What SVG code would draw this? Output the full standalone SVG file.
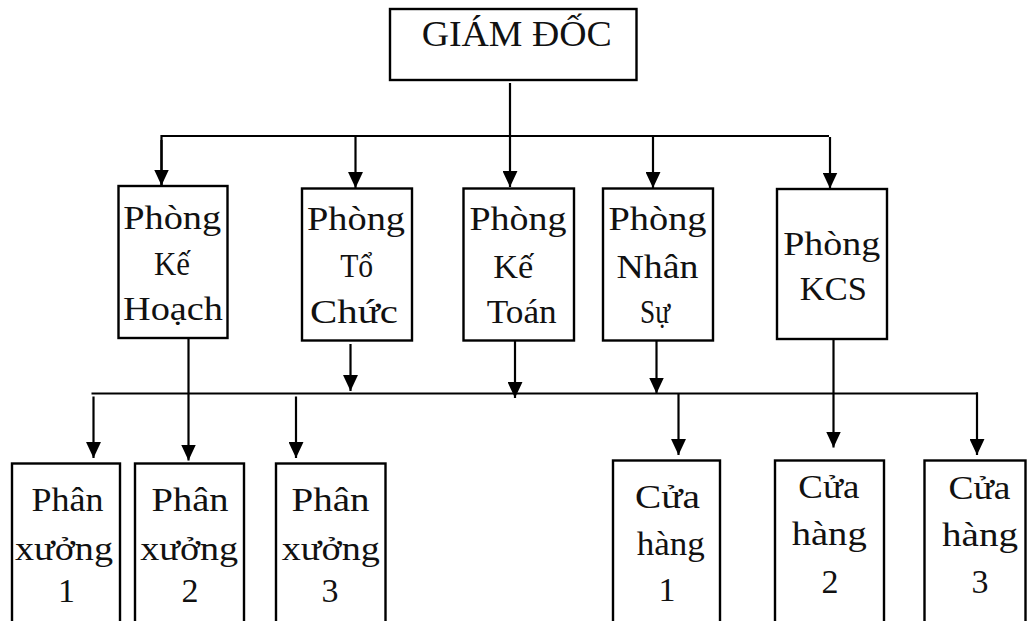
<svg xmlns="http://www.w3.org/2000/svg" width="1027" height="621" viewBox="0 0 1027 621">
<style>
.box{fill:#fff;stroke:#000;stroke-width:2.4}
.t{font-family:"Liberation Serif","DejaVu Serif",serif;font-size:34px;fill:#111;text-anchor:middle}
.h{font-size:36px}
.c{fill:none;stroke:#000;stroke-width:2.2}
</style>
<defs>
<marker id="ah" markerUnits="userSpaceOnUse" markerWidth="16" markerHeight="15" refX="15" refY="7" orient="auto" viewBox="0 0 15 14">
<path d="M0,0 L15,7 L0,14 z" fill="#000"/>
</marker>
</defs>
<rect width="1027" height="621" fill="#fff"/>
<g id="connectors">
<line class="c" x1="510" y1="83" x2="510" y2="187" marker-end="url(#ah)"/>
<polyline class="c" points="161.5,185.5 161.5,136 829,136"/>
<line class="c" x1="161.5" y1="140" x2="161.5" y2="185.5" marker-end="url(#ah)"/>
<line class="c" x1="355.5" y1="136" x2="355.5" y2="188" marker-end="url(#ah)"/>
<line class="c" x1="653" y1="136" x2="653" y2="188" marker-end="url(#ah)"/>
<line class="c" x1="830" y1="137" x2="830" y2="188.5" marker-end="url(#ah)"/>
<line class="c" x1="350.5" y1="344" x2="350.5" y2="391" marker-end="url(#ah)"/>
<line class="c" x1="515" y1="341" x2="515" y2="398" marker-end="url(#ah)"/>
<line class="c" x1="656.5" y1="341" x2="656.5" y2="393.5" marker-end="url(#ah)"/>
<line class="c" x1="91.5" y1="393.5" x2="978" y2="393.5"/>
<line class="c" x1="93.5" y1="396.5" x2="93.5" y2="458" marker-end="url(#ah)"/>
<line class="c" x1="296" y1="396.5" x2="296" y2="458" marker-end="url(#ah)"/>
<line class="c" x1="188.5" y1="337" x2="188.5" y2="460.5" marker-end="url(#ah)"/>
<line class="c" x1="678.5" y1="393.5" x2="678.5" y2="455" marker-end="url(#ah)"/>
<line class="c" x1="833.5" y1="339" x2="833.5" y2="447.5" marker-end="url(#ah)"/>
<line class="c" x1="977" y1="392.4" x2="977" y2="455" marker-end="url(#ah)"/>
</g>
<g id="giam-doc">
<rect class="box" x="390" y="9" width="246.5" height="71"/>
<text class="t h" x="516.7" y="45.5" textLength="190" lengthAdjust="spacingAndGlyphs">GIÁM ĐỐC</text>
</g>
<g id="phong-ke-hoach">
<rect class="box" x="118.5" y="186" width="109" height="152"/>
<text class="t" x="172.2" y="229" textLength="98" lengthAdjust="spacingAndGlyphs">Phòng</text>
<text class="t" x="172" y="274.5" textLength="36" lengthAdjust="spacingAndGlyphs">Kế</text>
<text class="t" x="173" y="319.5" textLength="100" lengthAdjust="spacingAndGlyphs">Hoạch</text>
</g>
<g id="phong-to-chuc">
<rect class="box" x="302" y="188.5" width="110" height="152"/>
<text class="t" x="356" y="230" textLength="98" lengthAdjust="spacingAndGlyphs">Phòng</text>
<text class="t" x="356.7" y="276.5" textLength="33" lengthAdjust="spacingAndGlyphs">Tổ</text>
<text class="t" x="354" y="322.5" textLength="88" lengthAdjust="spacingAndGlyphs">Chức</text>
</g>
<g id="phong-ke-toan">
<rect class="box" x="463.5" y="188.5" width="110.5" height="152"/>
<text class="t" x="518" y="230" textLength="97" lengthAdjust="spacingAndGlyphs">Phòng</text>
<text class="t" x="513.3" y="277.5" textLength="40" lengthAdjust="spacingAndGlyphs">Kế</text>
<text class="t" x="521.7" y="322.5" textLength="70" lengthAdjust="spacingAndGlyphs">Toán</text>
</g>
<g id="phong-nhan-su">
<rect class="box" x="603" y="188.5" width="110" height="152"/>
<text class="t" x="657.5" y="230" textLength="98" lengthAdjust="spacingAndGlyphs">Phòng</text>
<text class="t" x="657.5" y="277.5" textLength="82" lengthAdjust="spacingAndGlyphs">Nhân</text>
<text class="t" x="655" y="322.5" textLength="30" lengthAdjust="spacingAndGlyphs">Sự</text>
</g>
<g id="phong-kcs">
<rect class="box" x="777" y="189" width="110" height="150"/>
<text class="t" x="831.7" y="255" textLength="97" lengthAdjust="spacingAndGlyphs">Phòng</text>
<text class="t" x="833.3" y="300" textLength="67" lengthAdjust="spacingAndGlyphs">KCS</text>
</g>
<g id="phan-xuong-1">
<rect class="box" x="12" y="463.5" width="108" height="170"/>
<text class="t" x="67.5" y="511" textLength="72" lengthAdjust="spacingAndGlyphs">Phân</text>
<text class="t" x="64" y="559.5" textLength="98" lengthAdjust="spacingAndGlyphs">xưởng</text>
<text class="t" x="66.5" y="602">1</text>
</g>
<g id="phan-xuong-2">
<rect class="box" x="135" y="463.5" width="109" height="170"/>
<text class="t" x="190" y="511" textLength="77" lengthAdjust="spacingAndGlyphs">Phân</text>
<text class="t" x="189.2" y="559.5" textLength="98" lengthAdjust="spacingAndGlyphs">xưởng</text>
<text class="t" x="190" y="602">2</text>
</g>
<g id="phan-xuong-3">
<rect class="box" x="276" y="463.5" width="109.5" height="170"/>
<text class="t" x="330.5" y="511" textLength="78" lengthAdjust="spacingAndGlyphs">Phân</text>
<text class="t" x="330.8" y="559.5" textLength="98" lengthAdjust="spacingAndGlyphs">xưởng</text>
<text class="t" x="330" y="602">3</text>
</g>
<g id="cua-hang-1">
<rect class="box" x="613" y="460.5" width="107" height="170"/>
<text class="t" x="667.5" y="508" textLength="65" lengthAdjust="spacingAndGlyphs">Cửa</text>
<text class="t" x="670.8" y="555" textLength="68" lengthAdjust="spacingAndGlyphs">hàng</text>
<text class="t" x="667" y="601">1</text>
</g>
<g id="cua-hang-2">
<rect class="box" x="775" y="460.5" width="109" height="170"/>
<text class="t" x="828.8" y="498" textLength="61" lengthAdjust="spacingAndGlyphs">Cửa</text>
<text class="t" x="829.2" y="545" textLength="75" lengthAdjust="spacingAndGlyphs">hàng</text>
<text class="t" x="830" y="593">2</text>
</g>
<g id="cua-hang-3">
<rect class="box" x="924.5" y="460.5" width="101" height="170"/>
<text class="t" x="979.5" y="499" textLength="62" lengthAdjust="spacingAndGlyphs">Cửa</text>
<text class="t" x="980" y="546" textLength="76" lengthAdjust="spacingAndGlyphs">hàng</text>
<text class="t" x="980" y="592.5">3</text>
</g>
</svg>
